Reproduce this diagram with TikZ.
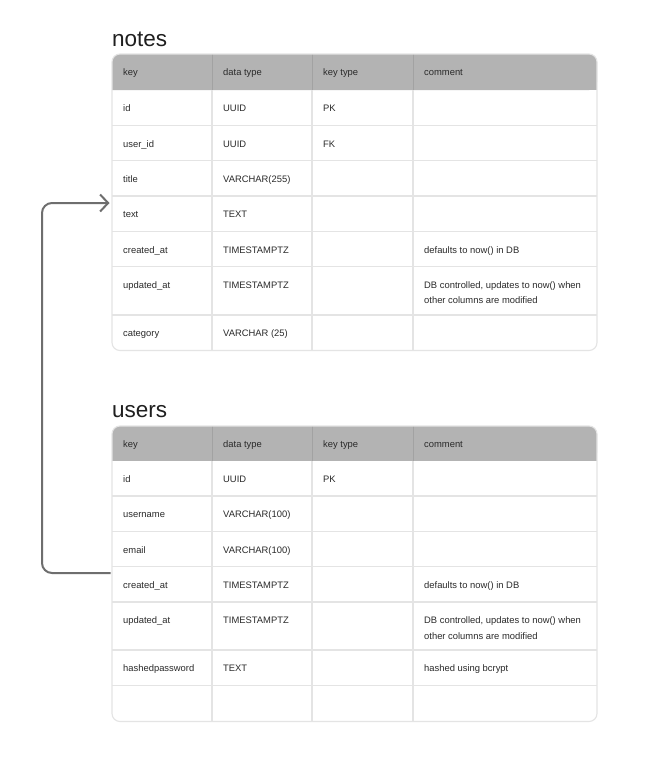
\documentclass[tikz,border=0pt]{standalone}
\usepackage{fontspec}
\setmainfont{Liberation Sans}
\usetikzlibrary{arrows.meta}
\definecolor{hdr}{HTML}{B3B3B3}
\definecolor{gridc}{HTML}{E4E4E4}
\definecolor{hdrline}{HTML}{A2A2A2}
\definecolor{txt}{HTML}{2A2A2A}
\definecolor{connc}{HTML}{6E6E6E}
\tikzset{
  cell/.style={anchor=base west, text=txt, font=\fontsize{9.4}{11}\selectfont, inner sep=0pt},
  tabletitle/.style={anchor=base west, font=\fontsize{22.5}{26}\selectfont, text=black!88, inner sep=0pt},
  gridline/.style={draw=gridc, line width=1.1pt},
  hdrsep/.style={draw=hdrline, line width=1pt},
  connector/.style={draw=connc, line width=2pt, rounded corners=10pt,
    -{Straight Barb[length=8pt,width=17pt,line width=2pt]}},
}
% \mytable{top}{headerbottom}{bottom}{row separators list}
\newcommand{\mytable}[4]{%
  \fill[hdr, rounded corners=8pt] (112,#2) -- (112,#1) -- (597,#1) -- (597,#2) [sharp corners] -- cycle;
  \fill[hdr] (112,#2) rectangle (597,{#2-10});
  \foreach \yy in {#4} { \draw[gridline] (112,\yy) -- (597,\yy); }
  \foreach \xx in {212,312,413} {
    \draw[hdrsep] (\xx,#1) -- (\xx,#2);
    \draw[gridline] (\xx,#2) -- (\xx,#3);
  }
  \draw[gridline, rounded corners=8pt] (112,#1) rectangle (597,#3);
}
\begin{document}
\begin{tikzpicture}[x=1pt,y=-1pt]
\useasboundingbox (0,0) rectangle (661,761);
\fill[white] (0,0) rectangle (661,761);

% ---------------- notes ----------------
\node[tabletitle] (notestitle) at (112,46.7) {notes};
\mytable{54}{90}{350.5}{125.5,160.5,196,231.5,266.5,315}
\foreach \t/\k/\d/\kt in {54/key/data type/key type, 90/id/UUID/PK, 125.5/user\_id/UUID/FK,
  160.5/title/VARCHAR(255)/, 196/text/TEXT/, 231.5/created\_at/TIMESTAMPTZ/,
  266.5/updated\_at/TIMESTAMPTZ/, 315/category/VARCHAR (25)/} {
  \node[cell] (nk\t) at (123,\t+21.6) {\k};
  \node[cell] (nd\t) at (223,\t+21.6) {\d};
  \node[cell] (nt\t) at (323,\t+21.6) {\kt};
}
\node[cell] (nch) at (424,54+21.6) {comment};
\node[cell] (nc1) at (424,231.5+21.6) {defaults to now() in DB};
\node[cell] (nc2a) at (424,266.5+21.6) {DB controlled, updates to now() when};
\node[cell] (nc2b) at (424,266.5+37.1) {other columns are modified};

% ---------------- users ----------------
\node[tabletitle] (userstitle) at (112,417.7) {users};
\mytable{426}{460.5}{721.5}{496,531.5,566.5,602,650,685.5}
\foreach \t/\k/\d/\kt in {426/key/data type/key type, 460.5/id/UUID/PK, 496/username/VARCHAR(100)/,
  531.5/email/VARCHAR(100)/, 566.5/created\_at/TIMESTAMPTZ/,
  602/updated\_at/TIMESTAMPTZ/, 650/hashedpassword/TEXT/} {
  \node[cell] (uk\t) at (123,\t+21.6) {\k};
  \node[cell] (ud\t) at (223,\t+21.6) {\d};
  \node[cell] (ut\t) at (323,\t+21.6) {\kt};
}
\node[cell] (uch) at (424,426+21.6) {comment};
\node[cell] (uc1) at (424,566.5+21.6) {defaults to now() in DB};
\node[cell] (uc2a) at (424,602+21.6) {DB controlled, updates to now() when};
\node[cell] (uc2b) at (424,602+37.1) {other columns are modified};
\node[cell] (uc3) at (424,650+21.6) {hashed using bcrypt};

% ---------------- connector ----------------
\coordinate (src) at (110.5,573);
\coordinate (dst) at (109.5,203);
\draw[connector] (src) -- ++(-68.5,0) |- (dst);
\end{tikzpicture}
\end{document}
